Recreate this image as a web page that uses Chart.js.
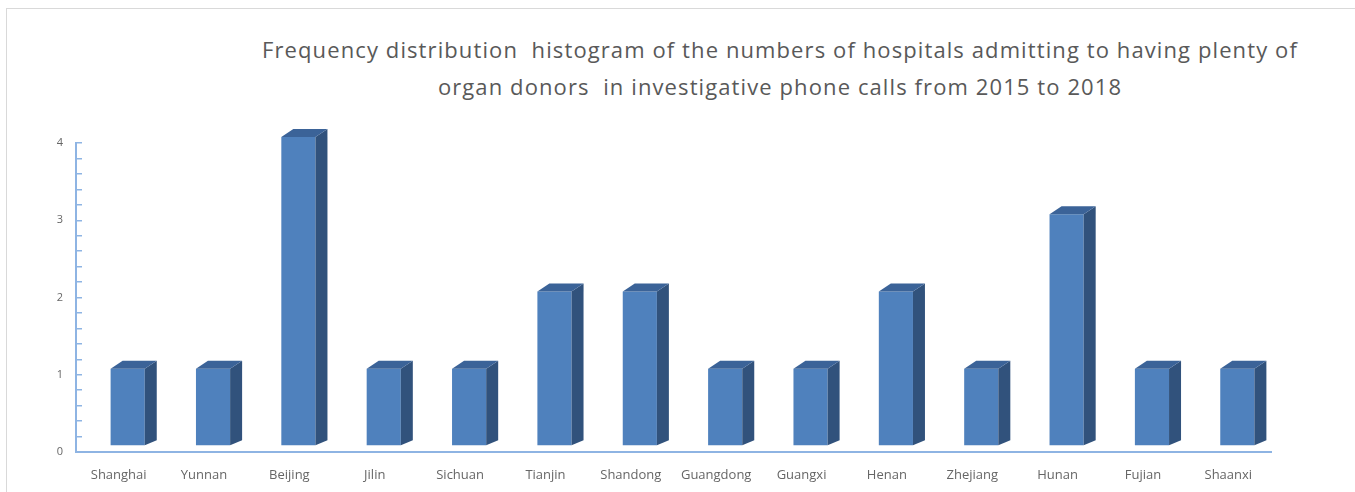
<!DOCTYPE html>
<html>
<head>
<meta charset="utf-8">
<script src="https://cdn.jsdelivr.net/npm/chart.js@4/dist/chart.umd.min.js"></script>
<style>
  html, body { margin: 0; padding: 0; background: #fff; }
  #wrap { position: relative; width: 1355px; height: 492px; overflow: hidden; }
  #frame { position: absolute; left: 6px; top: 8px; width: 1400px; height: 500px;
           border-top: 1px solid #d9d9d9; border-left: 1px solid #d9d9d9; }
  #title { position: absolute; left: 130px; width: 1300px; top: 31px; text-align: center;
           font-family: "Open Sans", sans-serif; font-size: 22px; letter-spacing: 1.1px;
           line-height: 37px; color: #595959; white-space: pre; }
  canvas { position: absolute; left: 0; top: 0; }
</style>
</head>
<body>
<div id="wrap">
  <div id="frame"></div>
  <div id="title">Frequency distribution  histogram of the numbers of hospitals admitting to having plenty of
organ donors  in investigative phone calls from 2015 to 2018</div>
  <canvas id="chart" width="1355" height="492"></canvas>
</div>
<script>
// Categories and counts
const provinces = ['Shanghai', 'Yunnan', 'Beijing', 'Jilin', 'Sichuan', 'Tianjin', 'Shandong',
    'Guangdong', 'Guangxi', 'Henan', 'Zhejiang', 'Hunan', 'Fujian', 'Shaanxi'];
const hospitalCounts = [1, 1, 4, 1, 1, 2, 2, 1, 1, 2, 1, 3, 1, 1];
const yTickLabels = [0, 1, 2, 3, 4];

const axisBlue = '#8eb4e3';
const frontColor = '#4f81bd';
const sideColor = '#31527c';
const topColor = '#3b6398';

// Fake 3D: shift the front face and add side + top faces
const DEPTH_X = 12, DEPTH_Y = -8;
const SHIFT_X = 9, SHIFT_Y = -6;

const bars3d = {
    id: 'bars3d',
    beforeDatasetsDraw(chart) {
        chart.ctx.save();
        chart.ctx.translate(SHIFT_X, SHIFT_Y);
    },
    afterDatasetsDraw(chart) {
        const ctx = chart.ctx;
        chart.getDatasetMeta(0).data.forEach(bar => {
            const left = bar.x - bar.width / 2;
            const right = bar.x + bar.width / 2;
            const top = bar.y;
            const bottom = bar.base;
            // side
            ctx.fillStyle = sideColor;
            ctx.beginPath();
            ctx.moveTo(right, top);
            ctx.lineTo(right + DEPTH_X, top + DEPTH_Y);
            ctx.lineTo(right + DEPTH_X, bottom + DEPTH_Y + 3);
            ctx.lineTo(right, bottom);
            ctx.closePath();
            ctx.fill();
            // top
            ctx.fillStyle = topColor;
            ctx.beginPath();
            ctx.moveTo(left, top);
            ctx.lineTo(left + DEPTH_X, top + DEPTH_Y);
            ctx.lineTo(right + DEPTH_X, top + DEPTH_Y);
            ctx.lineTo(right, top);
            ctx.closePath();
            ctx.fill();
        });
        ctx.restore();
    }
};

new Chart(document.getElementById('chart'), {
    type: 'bar',
    data: {
        labels: provinces,
        datasets: [{
            data: hospitalCounts,
            backgroundColor: frontColor,
            borderWidth: 0,
            categoryPercentage: 1,
            barPercentage: 0.4
        }]
    },
    options: {
        responsive: false,
        animation: false,
        layout: { padding: { left: 6, top: 143, right: 84, bottom: 0 } },
        plugins: {
            legend: { display: false },
            tooltip: { enabled: false }
        },
        scales: {
            x: {
                grid: { display: false },
                border: { color: axisBlue, width: 2 },
                ticks: {
                    color: '#666',
                    font: { family: 'Open Sans', size: 13 },
                    maxRotation: 0,
                    autoSkip: false,
                    padding: 7
                },
                afterFit: s => { s.height = 40; }
            },
            y: {
                min: 0,
                max: 4,
                grid: {
                    drawOnChartArea: false,
                    color: axisBlue,
                    tickLength: -6,
                    lineWidth: 1.5
                },
                border: { color: axisBlue, width: 2 },
                ticks: {
                    stepSize: 0.2,
                    autoSkip: false,
                    color: '#666',
                    font: { family: 'Open Sans', size: 11 },
                    padding: 19,
                    callback: v => {
                        const r = Math.round(v * 1000) / 1000;
                        return yTickLabels.includes(r) ? String(r) : '';
                    }
                },
                afterFit: s => { s.width = 70; }
            }
        }
    },
    plugins: [bars3d]
});
</script>
</body>
</html>
